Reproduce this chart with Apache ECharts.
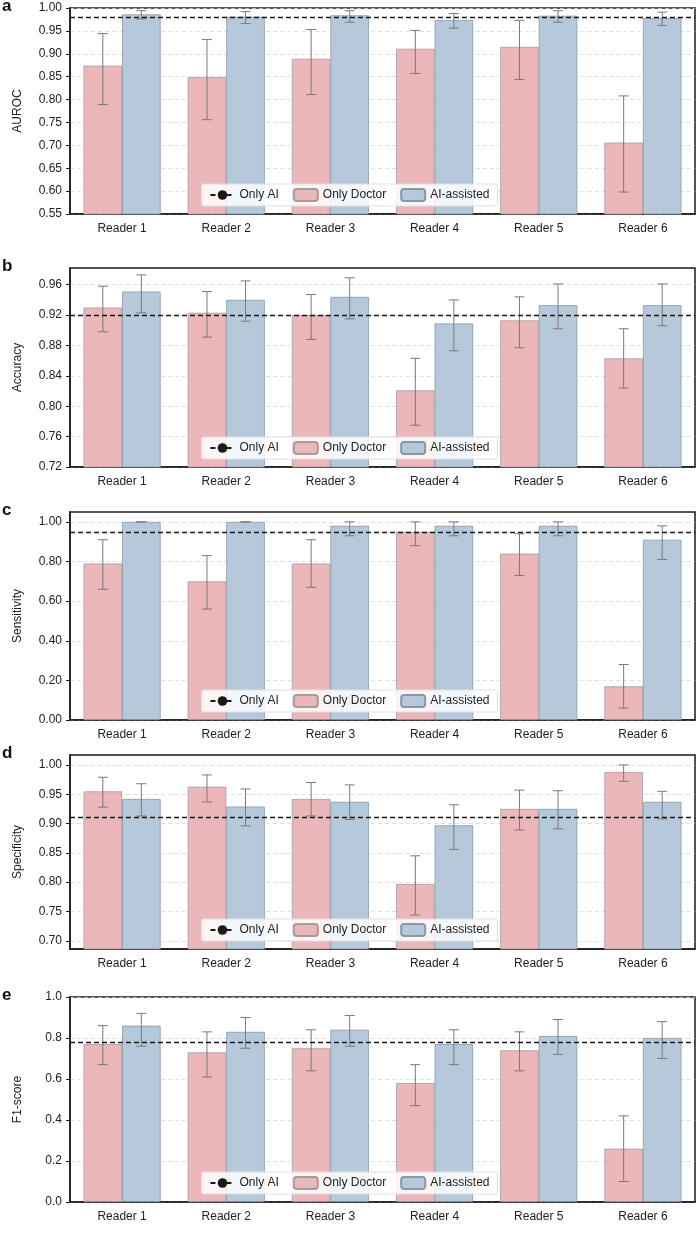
<!DOCTYPE html>
<html>
<head>
<meta charset="utf-8">
<script src="https://cdn.jsdelivr.net/npm/echarts@6/dist/echarts.min.js"></script>
<style>html,body{margin:0;background:#fff}#chart{width:699px;height:1250px}</style>
</head>
<body>
<div id="chart"></div>
<script>
const readers = ['Reader 1', 'Reader 2', 'Reader 3', 'Reader 4', 'Reader 5', 'Reader 6'];

// a AUROC
const aucDoc = [0.874, 0.849, 0.889, 0.911, 0.915, 0.706];
const aucDocLo = [0.789, 0.756, 0.811, 0.857, 0.844, 0.598];
const aucDocHi = [0.944, 0.931, 0.953, 0.951, 0.973, 0.808];
const aucAss = [0.986, 0.981, 0.984, 0.974, 0.983, 0.978];
const aucAssLo = [0.976, 0.966, 0.969, 0.956, 0.969, 0.962];
const aucAssHi = [0.994, 0.992, 0.994, 0.988, 0.994, 0.991];
const aucAI = 0.985;
// b Accuracy
const accDoc = [0.930, 0.923, 0.920, 0.821, 0.913, 0.863];
const accDocLo = [0.898, 0.891, 0.888, 0.775, 0.877, 0.824];
const accDocHi = [0.958, 0.951, 0.947, 0.863, 0.944, 0.902];
const accAss = [0.951, 0.940, 0.944, 0.909, 0.933, 0.933];
const accAssLo = [0.923, 0.912, 0.915, 0.873, 0.902, 0.906];
const accAssHi = [0.973, 0.965, 0.969, 0.940, 0.961, 0.961];
const accAI = 0.915;
// c Sensitivity
const senDoc = [0.79, 0.70, 0.79, 0.95, 0.84, 0.17];
const senDocLo = [0.66, 0.56, 0.67, 0.88, 0.73, 0.06];
const senDocHi = [0.91, 0.83, 0.91, 1.00, 0.94, 0.28];
const senAss = [1.00, 1.00, 0.98, 0.98, 0.98, 0.91];
const senAssLo = [1.00, 1.00, 0.93, 0.93, 0.93, 0.81];
const senAssHi = [1.00, 1.00, 1.00, 1.00, 1.00, 0.98];
const senAI = 0.955;
// d Specificity
const speDoc = [0.955, 0.963, 0.942, 0.797, 0.925, 0.988];
const speDocLo = [0.928, 0.937, 0.913, 0.744, 0.889, 0.972];
const speDocHi = [0.979, 0.983, 0.970, 0.845, 0.957, 1.000];
const speAss = [0.942, 0.929, 0.937, 0.897, 0.925, 0.937];
const speAssLo = [0.913, 0.896, 0.907, 0.856, 0.891, 0.908];
const speAssHi = [0.968, 0.959, 0.966, 0.932, 0.956, 0.955];
const speAI = 0.911;
// e F1-score
const f1Doc = [0.77, 0.73, 0.75, 0.58, 0.74, 0.26];
const f1DocLo = [0.67, 0.61, 0.64, 0.47, 0.64, 0.10];
const f1DocHi = [0.86, 0.83, 0.84, 0.67, 0.83, 0.42];
const f1Ass = [0.86, 0.83, 0.84, 0.77, 0.81, 0.80];
const f1AssLo = [0.76, 0.75, 0.76, 0.67, 0.72, 0.70];
const f1AssHi = [0.92, 0.90, 0.91, 0.84, 0.89, 0.88];
const f1AI = 0.775;

const panels = [
  {tag: 'a', name: 'AUROC', top: 8, h: 206, min: 0.55, max: 1.0, ticks: [0.55,0.6,0.65,0.7,0.75,0.8,0.85,0.9,0.95,1.0], dec: 2,
   doc: aucDoc, docLo: aucDocLo, docHi: aucDocHi, ass: aucAss, assLo: aucAssLo, assHi: aucAssHi, ai: aucAI},
  {tag: 'b', name: 'Accuracy', top: 268, h: 199, min: 0.72, max: 0.982, ticks: [0.72,0.76,0.8,0.84,0.88,0.92,0.96], dec: 2,
   doc: accDoc, docLo: accDocLo, docHi: accDocHi, ass: accAss, assLo: accAssLo, assHi: accAssHi, ai: accAI},
  {tag: 'c', name: 'Sensitivity', top: 512, h: 208, min: 0, max: 1.05, ticks: [0,0.2,0.4,0.6,0.8,1.0], dec: 2,
   doc: senDoc, docLo: senDocLo, docHi: senDocHi, ass: senAss, assLo: senAssLo, assHi: senAssHi, ai: senAI},
  {tag: 'd', name: 'Specificity', top: 755, h: 194, min: 0.686, max: 1.017, ticks: [0.7,0.75,0.8,0.85,0.9,0.95,1.0], dec: 2,
   doc: speDoc, docLo: speDocLo, docHi: speDocHi, ass: speAss, assLo: speAssLo, assHi: speAssHi, ai: speAI},
  {tag: 'e', name: 'F1-score', top: 997, h: 205, min: 0, max: 1.0, ticks: [0,0.2,0.4,0.6,0.8,1.0], dec: 1,
   doc: f1Doc, docLo: f1DocLo, docHi: f1DocHi, ass: f1Ass, assLo: f1AssLo, assHi: f1AssHi, ai: f1AI}
];

const GAP = 0.26;
const font = 'Liberation Sans, Arial, sans-serif';

function errSeries(i, lo, hi, side) {
  return {
    type: 'custom', xAxisIndex: i, yAxisIndex: i, z: 5, silent: true,
    data: readers.map((r, k) => [k, lo[k], hi[k]]),
    renderItem: function (params, api) {
      const bw = api.size([1, 0])[0] * (1 - GAP) / 2;
      const c = api.coord([api.value(0), api.value(1)]);
      const t = api.coord([api.value(0), api.value(2)]);
      const x = c[0] + side * bw / 2;
      const cap = 5;
      const st = {stroke: '#7a7a7a', lineWidth: 1};
      return {type: 'group', children: [
        {type: 'line', shape: {x1: x, y1: c[1], x2: x, y2: t[1]}, style: st},
        {type: 'line', shape: {x1: x - cap, y1: c[1], x2: x + cap, y2: c[1]}, style: st},
        {type: 'line', shape: {x1: x - cap, y1: t[1], x2: x + cap, y2: t[1]}, style: st}
      ]};
    }
  };
}

const grid = [], xAxis = [], yAxis = [], series = [], legend = [], graphic = [];
panels.forEach((p, i) => {
  grid.push({left: 70, right: 4, top: p.top, height: p.h, show: true, borderColor: '#1a1a1a', borderWidth: 1.5, backgroundColor: '#fff'});
  xAxis.push({type: 'category', gridIndex: i, data: readers,
    axisLine: {lineStyle: {color: '#1a1a1a', width: 1.5}}, axisTick: {show: false},
    axisLabel: {color: '#222', fontSize: 12, fontFamily: font, margin: 9}});
  yAxis.push({type: 'value', gridIndex: i, min: p.min, max: p.max, name: p.name,
    nameLocation: 'middle', nameGap: 46, nameTextStyle: {color: '#222', fontSize: 12, fontFamily: font},
    axisLine: {show: true, lineStyle: {color: '#1a1a1a', width: 1.5}},
    axisTick: {show: true, length: 4, lineStyle: {color: '#1a1a1a'}, customValues: p.ticks},
    axisLabel: {color: '#222', fontSize: 12, fontFamily: font, customValues: p.ticks, hideOverlap: false,
      formatter: v => v.toFixed(p.dec)},
    splitLine: {show: true, lineStyle: {color: '#d8d8d8', type: [4, 3], width: 0.8}}});
  series.push({type: 'bar', name: 'Only Doctor', xAxisIndex: i, yAxisIndex: i, data: p.doc,
    barGap: '0%', barCategoryGap: (GAP * 100) + '%',
    itemStyle: {color: '#ebb7ba', borderColor: '#a99a9c', borderWidth: 0.8}});
  series.push({type: 'bar', name: 'AI-assisted', xAxisIndex: i, yAxisIndex: i, data: p.ass,
    itemStyle: {color: '#b6c9db', borderColor: '#8798a8', borderWidth: 0.8}});
  series.push(errSeries(i, p.docLo, p.docHi, -1));
  series.push(errSeries(i, p.assLo, p.assHi, 1));
  series.push({type: 'line', name: 'Only AI', xAxisIndex: i, yAxisIndex: i, data: [], symbol: 'none',
    lineStyle: {color: '#1a1a1a', type: [5, 3], width: 1.3}, itemStyle: {color: '#1a1a1a'},
    markLine: {silent: true, symbol: 'none', label: {show: false}, z: 6,
      lineStyle: {color: '#1a1a1a', type: [5, 3], width: 1.3}, data: [{yAxis: p.ai}]}});
  legend.push({top: p.top + p.h - 30, left: 'center', orient: 'horizontal',
    data: ['Only AI', 'Only Doctor', 'AI-assisted'],
    backgroundColor: 'rgba(255,255,255,0.85)', borderColor: '#e0e0e0', borderWidth: 1, borderRadius: 2,
    padding: [4, 8], itemGap: 14, itemWidth: 24, itemHeight: 12,
    textStyle: {color: '#222', fontSize: 12, fontFamily: font}});
  graphic.push({type: 'text', left: 2, top: p.top - 10,
    style: {text: p.tag, font: 'bold 17px ' + font, fill: '#111'}});
});

const chart = echarts.init(document.getElementById('chart'), null, {renderer: 'canvas'});
chart.setOption({animation: false, grid, xAxis, yAxis, series, legend, graphic});
</script>
</body>
</html>
